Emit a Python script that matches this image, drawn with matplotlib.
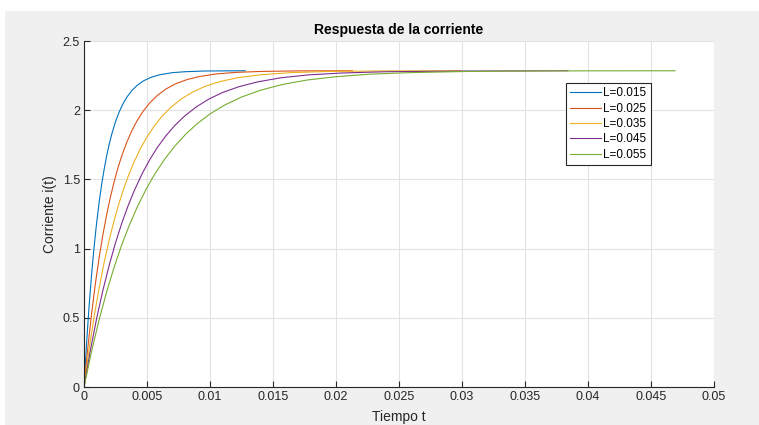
import matplotlib
matplotlib.use("Agg")
import matplotlib.pyplot as plt
from matplotlib.patches import Rectangle
from matplotlib.ticker import FixedLocator, FuncFormatter

plt.rcParams.update({
    'font.family': ['Liberation Sans', 'DejaVu Sans'],
    'font.size': 9,
})

# ====================
# Datos
# ====================
labels = ["L=0.015", "L=0.025", "L=0.035", "L=0.045", "L=0.055"]
colors = ["#0072BD", "#D95319", "#EDB120", "#7E2F8E", "#77AC30"]

t_015 = [0, 0.0002, 0.0004, 0.0006, 0.0008, 0.001, 0.0012, 0.0014, 0.0016, 0.0018,
         0.002, 0.0022, 0.0025, 0.0028, 0.0031, 0.0034, 0.0038, 0.0042, 0.0047,
         0.0053, 0.006, 0.007, 0.008, 0.0095, 0.011, 0.0128]
i_015 = [0, 0.310, 0.579, 0.811, 1.011, 1.184, 1.334, 1.463, 1.574, 1.671,
         1.754, 1.826, 1.917, 1.989, 2.047, 2.094, 2.142, 2.178, 2.211,
         2.237, 2.256, 2.271, 2.278, 2.283, 2.284, 2.285]

t_025 = [0, 0.0003, 0.0006, 0.0009, 0.0012, 0.0015, 0.0018, 0.0021, 0.0024, 0.0027,
         0.003, 0.0034, 0.0038, 0.0042, 0.0047, 0.0052, 0.0058, 0.0065, 0.0073,
         0.0082, 0.0092, 0.0105, 0.012, 0.014, 0.017, 0.0213]
i_025 = [0, 0.281, 0.528, 0.745, 0.934, 1.100, 1.246, 1.374, 1.486, 1.585,
         1.671, 1.770, 1.852, 1.922, 1.993, 2.051, 2.105, 2.153, 2.192,
         2.222, 2.244, 2.262, 2.273, 2.280, 2.284, 2.285]

t_035 = [0, 0.0004, 0.0008, 0.0012, 0.0016, 0.002, 0.0024, 0.0028, 0.0032, 0.0036,
         0.004, 0.0045, 0.005, 0.0056, 0.0062, 0.0069, 0.0077, 0.0086, 0.0096,
         0.0108, 0.0122, 0.014, 0.0165, 0.0195, 0.024, 0.0299]
i_035 = [0, 0.269, 0.506, 0.715, 0.900, 1.063, 1.207, 1.334, 1.446, 1.544,
         1.631, 1.726, 1.807, 1.889, 1.957, 2.021, 2.080, 2.130, 2.172,
         2.207, 2.235, 2.256, 2.272, 2.280, 2.284, 2.285]

t_045 = [0, 0.0005, 0.001, 0.0015, 0.002, 0.0025, 0.003, 0.0035, 0.004, 0.0046,
         0.0052, 0.0058, 0.0065, 0.0072, 0.008, 0.0089, 0.0099, 0.011, 0.0123,
         0.0138, 0.0156, 0.0178, 0.0205, 0.024, 0.03, 0.0384]
i_045 = [0, 0.262, 0.494, 0.699, 0.880, 1.041, 1.184, 1.310, 1.421, 1.539,
         1.640, 1.728, 1.815, 1.889, 1.959, 2.023, 2.080, 2.128, 2.170,
         2.205, 2.234, 2.255, 2.269, 2.278, 2.283, 2.285]

t_055 = [0, 0.0006, 0.0012, 0.0018, 0.0024, 0.003, 0.0036, 0.0042, 0.0049, 0.0056,
         0.0064, 0.0072, 0.0081, 0.009, 0.01, 0.0112, 0.0125, 0.014, 0.0157,
         0.0177, 0.02, 0.0228, 0.026, 0.0305, 0.037, 0.0469]
i_055 = [0, 0.257, 0.486, 0.688, 0.868, 1.028, 1.169, 1.295, 1.424, 1.536,
         1.646, 1.740, 1.829, 1.904, 1.973, 2.039, 2.095, 2.144, 2.185,
         2.218, 2.242, 2.261, 2.272, 2.280, 2.284, 2.285]

series_t = [t_015, t_025, t_035, t_045, t_055]
series_i = [i_015, i_025, i_035, i_045, i_055]

x_ticks = [0, 0.005, 0.01, 0.015, 0.02, 0.025, 0.03, 0.035, 0.04, 0.045, 0.05]
y_ticks = [0, 0.5, 1, 1.5, 2, 2.5]

# ====================
# Figura estilo MATLAB
# ====================
fig = plt.figure(figsize=(7.59, 4.25), dpi=100, facecolor='#F0F0F0')
# franja blanca superior/izquierda de la captura
fig.patches.append(Rectangle((0, 1 - 11 / 425), 1, 11 / 425, transform=fig.transFigure,
                             facecolor='white', edgecolor='none', zorder=0))
fig.patches.append(Rectangle((0, 0), 5 / 759, 1, transform=fig.transFigure,
                             facecolor='white', edgecolor='none', zorder=0))

ax = fig.add_axes([84 / 759, 38 / 425, 630 / 759, 346 / 425])
ax.set_facecolor('white')

for t, i, c, lab in zip(series_t, series_i, colors, labels):
    ax.plot(t, i, color=c, linewidth=0.8, label=lab)

ax.set_xlim(0, 0.05)
ax.set_ylim(0, 2.5)
ax.xaxis.set_major_locator(FixedLocator(x_ticks))
ax.yaxis.set_major_locator(FixedLocator(y_ticks))
ax.xaxis.set_major_formatter(FuncFormatter(lambda v, p: f"{v:g}"))
ax.yaxis.set_major_formatter(FuncFormatter(lambda v, p: f"{v:g}"))

ax.grid(True, color='#E3E3E3', linewidth=0.8)
ax.set_axisbelow(True)
for s in ['top', 'right']:
    ax.spines[s].set_visible(False)
for s in ['left', 'bottom']:
    ax.spines[s].set_color('#262626')
    ax.spines[s].set_linewidth(0.8)
ax.tick_params(direction='in', length=4, width=0.8, color='#262626',
               labelcolor='#262626', labelsize=9, pad=3)

ax.set_title("Respuesta de la corriente", fontsize=10, fontweight='bold',
             color='black', pad=5)
ax.set_xlabel("Tiempo t", fontsize=10, color='#262626', labelpad=5)
ax.set_ylabel("Corriente i(t)", fontsize=10, color='#262626', labelpad=4)

leg = ax.legend(loc='upper left', bbox_to_anchor=(0.7646, 0.8795), borderaxespad=0,
                fontsize=8.5, fancybox=False, framealpha=1, edgecolor='#262626',
                handlelength=2.6, handletextpad=0.2, labelspacing=0.28,
                borderpad=0.4)
leg.get_frame().set_linewidth(0.8)

fig.savefig("out.png", dpi=100, facecolor=fig.get_facecolor())
